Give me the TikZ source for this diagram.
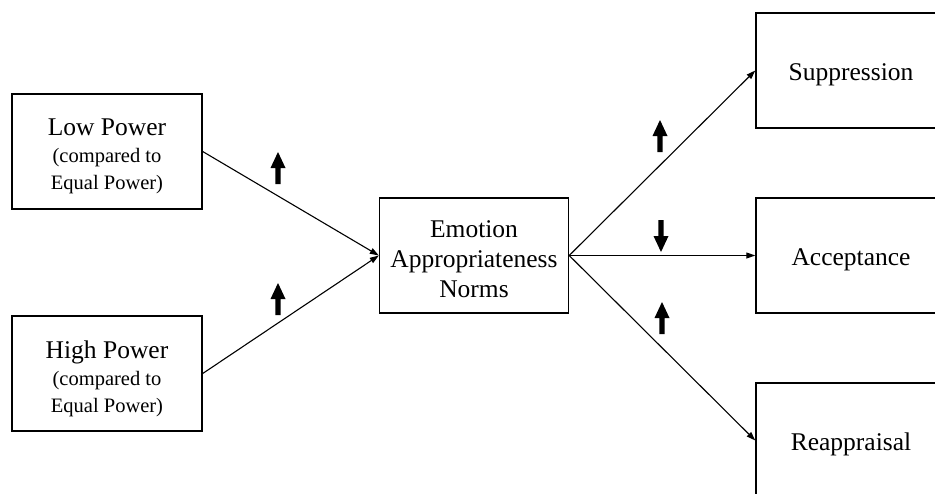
\documentclass[tikz,border=0pt]{standalone}
\usepackage{fontspec}
\setmainfont{Liberation Serif}
\usetikzlibrary{arrows.meta}
\tikzset{
  box/.style={draw, line width=1.4pt, minimum width=190pt, minimum height=115pt, inner sep=0pt},
  txt/.style={inner sep=0pt, align=center, font=\fontsize{25.5}{30}\selectfont},
  conn/.style={line width=1.1pt, -{Triangle[length=9pt,width=6pt]}},
  bigup/.pic={\fill (0,0) -- (7.5,16) -- (2.6,16) -- (2.6,32) -- (-2.6,32) -- (-2.6,16) -- (-7.5,16) -- cycle;},
  bigdown/.pic={\fill (0,32) -- (7.5,16) -- (2.6,16) -- (2.6,0) -- (-2.6,0) -- (-2.6,16) -- (-7.5,16) -- cycle;}
}
\newcommand{\smalltxt}{\fontsize{20.5}{26}\selectfont}
\begin{document}
\begin{tikzpicture}[x=1pt,y=-1pt]
\useasboundingbox (0,0) rectangle (935,493);
\clip (0,0) rectangle (935,493);
\node[box] (low) at (107,151.5) {};
\node[box] (high) at (107,373.5) {};
\node[box, minimum width=189pt] (norms) at (474,255.5) {};
\node[box] (supp) at (851,70.5) {};
\node[box] (acc) at (851,255.5) {};
\node[box] (reap) at (851,440.5) {};
\node[txt] (lowt) at ([yshift=-5pt]low.center) {Low Power\\[-3pt]{\smalltxt (compared to}\\[-3pt]{\smalltxt Equal Power)}};
\node[txt] (hight) at ([yshift=-5pt]high.center) {High Power\\[-3pt]{\smalltxt (compared to}\\[-3pt]{\smalltxt Equal Power)}};
\node[txt] (normst) at ([yshift=-3.5pt]norms.center) {Emotion\\Appropriateness\\Norms};
\node[txt] (suppt) at ([yshift=-4pt]supp.center) {Suppression};
\node[txt] (acct) at ([yshift=-4pt]acc.center) {Acceptance};
\node[txt] (reapt) at ([yshift=-4pt]reap.center) {Reappraisal};
\draw[conn] (low.east) -- (norms.west);
\draw[conn] (high.east) -- (norms.west);
\draw[conn] (norms.east) -- (supp.west);
\draw[conn] (norms.east) -- (acc.west);
\draw[conn] (norms.east) -- (reap.west);
\pic at (278,152) {bigup};
\pic at (278,283) {bigup};
\pic at (660,120) {bigup};
\pic at (661,220) {bigdown};
\pic at (662,302) {bigup};
\end{tikzpicture}
\end{document}
